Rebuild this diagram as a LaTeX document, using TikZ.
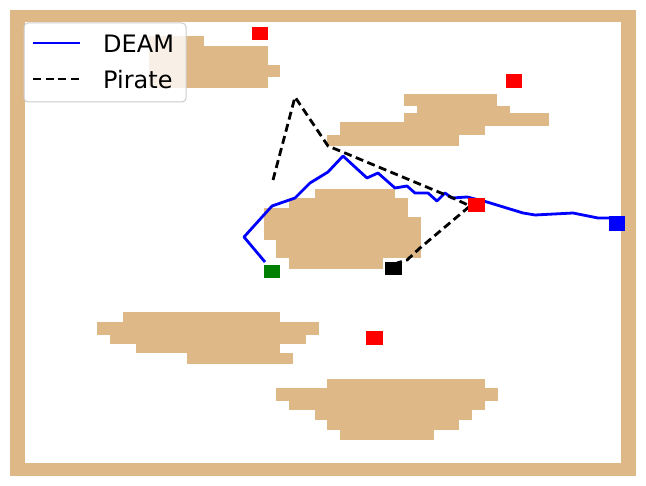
\documentclass[tikz,border=0pt]{standalone}
\usepackage{fontspec}
\setmainfont{DejaVu Sans}
\usepackage{tikz}
\usepackage{xcolor}
\definecolor{sand}{RGB}{222,184,135}
\tikzset{
    obst/.style={fill=sand,draw=none},
    goal/.style={fill=red,draw=none},
    deam/.style={blue,line width=2.8pt,line join=round},
    pirate/.style={black,line width=2.8pt,dash pattern=on 8pt off 4.5pt},
}

\begin{document}
\begin{tikzpicture}[x=1pt,y=-1pt]
    \useasboundingbox (0,0) rectangle (646,486);

    % Walls
    \fill [sand] (10,10) rectangle (636,476);
    \fill [white] (25,22) rectangle (621,463);

    % Obstacles
    \fill [obst] (149,36) rectangle (204,46);
    \fill [obst] (149,46) rectangle (268,88);
    \fill [obst] (149,65) rectangle (280,77);

    \fill [obst] (404,94) rectangle (497,106);
    \fill [obst] (417,106) rectangle (510,113);
    \fill [obst] (404,113) rectangle (549,126);
    \fill [obst] (340,122) rectangle (485,135);
    \fill [obst] (327,135) rectangle (459,146);

    \fill [obst] (315,189) rectangle (395,198);
    \fill [obst] (289,198) rectangle (408,208);
    \fill [obst] (264,208) rectangle (408,217);
    \fill [obst] (264,217) rectangle (421,240);
    \fill [obst] (276,240) rectangle (421,258);
    \fill [obst] (289,258) rectangle (383,269);

    \fill [obst] (123,312) rectangle (280,322);
    \fill [obst] (97,322) rectangle (319,335);
    \fill [obst] (110,335) rectangle (306,344);
    \fill [obst] (136,344) rectangle (280,353);
    \fill [obst] (187,353) rectangle (293,364);

    \fill [obst] (327,379) rectangle (485,388);
    \fill [obst] (276,388) rectangle (498,401);
    \fill [obst] (289,401) rectangle (485,410);
    \fill [obst] (315,410) rectangle (472,420);
    \fill [obst] (327,420) rectangle (459,430);
    \fill [obst] (340,430) rectangle (434,440);

    % Goals
    \fill [goal] (252,27) rectangle (268,40);
    \fill [goal] (506,74) rectangle (522,88);
    \fill [goal] (366,331) rectangle (383,345);

    % DEAM path
    \draw [deam] (265,262) -- (244,237) -- (272,206) -- (295,198)
        -- (310,183) -- (328,172) -- (343,156) -- (367,178) -- (378,173)
        -- (395,188) -- (407,186) -- (415,193) -- (428,193) -- (437,201)
        -- (445,193) -- (452,198) -- (467,197) -- (487,202) -- (523,213)
        -- (535,215) -- (573,213) -- (598,218) -- (617,218);

    % Pirate path
    \draw [pirate] (273,180) -- (295,97) -- (328,146) -- (345,153)
        -- (453,198) -- (470,206) -- (420,248) -- (407,260) -- (397,263);

    \fill [goal] (468,198) rectangle (485,212);

    % Agents
    \node (start) [fill=green!50!black,minimum width=16pt,minimum height=13pt,
        inner sep=0pt] at (272,271.5) {};
    \node (deamend) [fill=blue,minimum width=16pt,minimum height=15pt,
        inner sep=0pt] at (617,223.5) {};
    \node (pirend) [fill=black,minimum width=17pt,minimum height=13pt,
        inner sep=0pt] at (393.5,268.5) {};

    % Legend
    \fill [rounded corners=4pt,white,opacity=0.8] (24,23) rectangle (186,102);
    \draw [rounded corners=4pt,draw=black!20,line width=1pt]
        (24,23) rectangle (186,102);
    \draw [deam] (33,43) -- (80,43);
    \draw [pirate] (33,79) -- (80,79);
    \node (ldeam) at (103,44) [anchor=west,font=\fontsize{24}{26}\selectfont,
        inner sep=0pt] {DEAM};
    \node (lpirate) at (103,80) [anchor=west,font=\fontsize{24}{26}\selectfont,
        inner sep=0pt] {Pirate};
\end{tikzpicture}
\end{document}
